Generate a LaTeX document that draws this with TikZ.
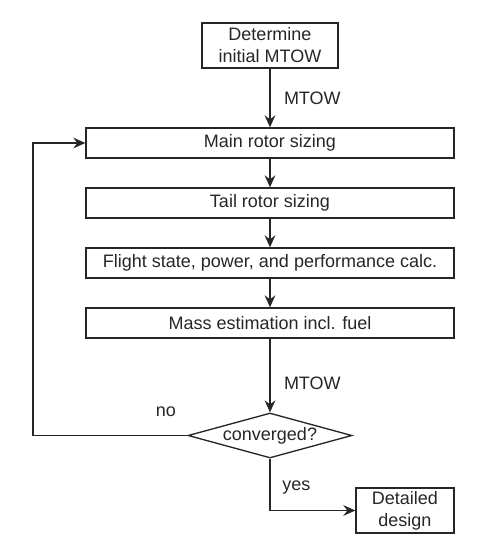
\documentclass[tikz,border=0pt]{standalone}
\usepackage{fontspec}
\setmainfont{Liberation Sans}
\usetikzlibrary{shapes.geometric,arrows.meta}
\begin{document}
\begin{tikzpicture}[x=0.75pt,y=-0.75pt,
  every node/.style={font=\fontsize{13.5pt}{16.5pt}\selectfont, text=black!85},
  box/.style={draw=black!85, line width=1pt, inner sep=0pt, align=center},
  wide/.style={box, minimum width=276pt, minimum height=22.5pt},
  dec/.style={draw=black!85, line width=1pt, shape=diamond, inner sep=0pt, minimum width=123pt, minimum height=33.75pt, aspect=3.64},
  conn/.style={draw=black!85, line width=1pt, -{Stealth[length=9pt,width=8pt,inset=3pt]}},
  lbl/.style={inner sep=0pt}]
\useasboundingbox (0,0) rectangle (479,558);
\node[box, minimum width=102pt, minimum height=33.75pt] (init) at (270,45.5) {Determine\\initial MTOW};
\node[wide] (main) at (270,143) {Main rotor sizing};
\node[wide] (tail) at (270,203) {Tail rotor sizing};
\node[wide] (flight) at (270,263) {Flight state, power, and performance calc.};
\node[wide] (mass) at (270,323) {Mass estimation incl. fuel};
\node[dec] (conv) at (270,435.5) {converged?};
\node[box, minimum width=73.5pt, minimum height=33.75pt] (det) at (405,510.5) {Detailed\\design};
\coordinate (loopb) at (33,435.5);
\coordinate (loopt) at (33,143);
\coordinate (yesc) at (270,510.5);
\draw[conn] (init) -- node[lbl, anchor=west, pos=0.5, xshift=10pt] {MTOW} (main);
\draw[conn] (main) -- (tail);
\draw[conn] (tail) -- (flight);
\draw[conn] (flight) -- (mass);
\draw[conn] (mass) -- node[lbl, anchor=west, pos=0.6, xshift=10pt] {MTOW} (conv);
\draw[conn] (conv.west) -- (loopb) -- (loopt) -- (main.west);
\node[lbl] (no) at (166,412) {no};
\draw[conn] (conv.south) -- (yesc) -- (det.west);
\node[lbl, anchor=west] (yes) at (282,488) {yes};
\end{tikzpicture}
\end{document}
